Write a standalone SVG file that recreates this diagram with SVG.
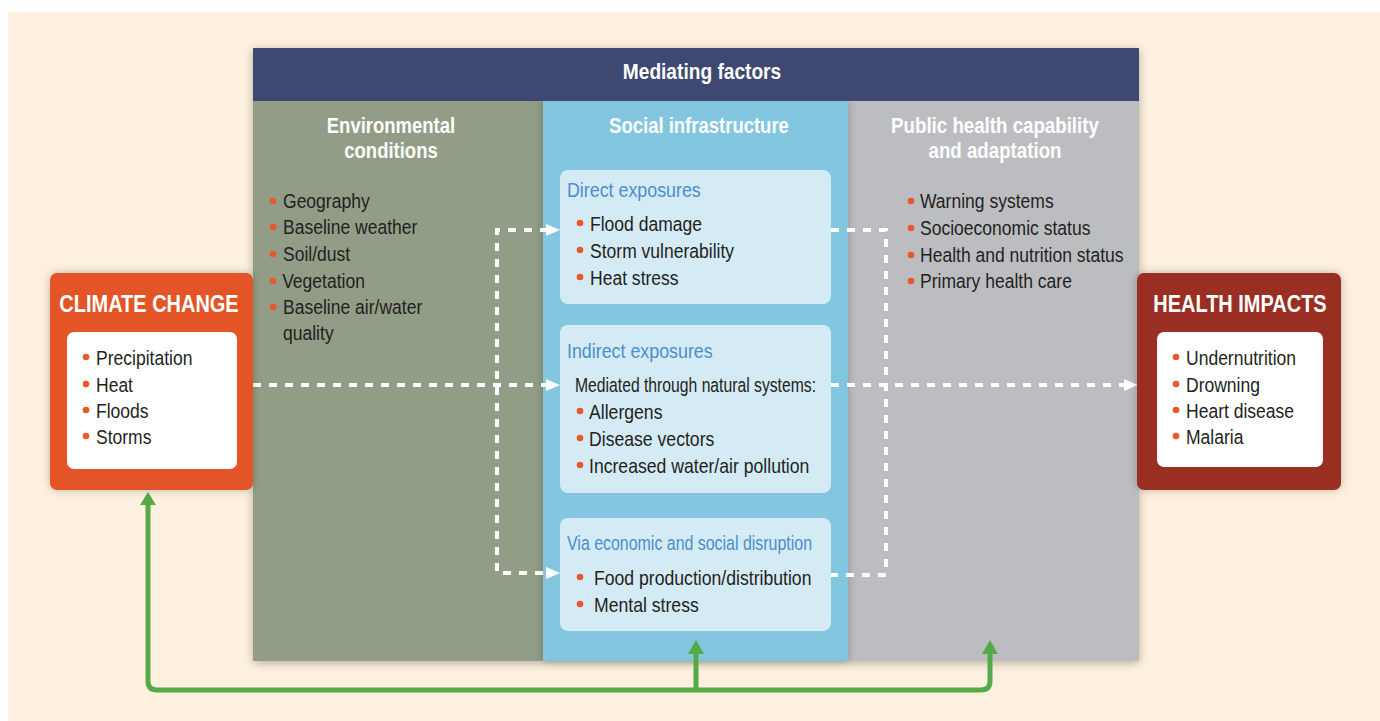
<svg xmlns="http://www.w3.org/2000/svg" width="1380" height="721" viewBox="0 0 1380 721">
<defs>
<style>
.t{font-family:"Liberation Sans",Arial,sans-serif;}
.body{font-size:20.5px;fill:#231f20;}
.hd{font-size:21.5px;font-weight:bold;fill:#ffffff;text-anchor:middle;}
.big{font-size:23.5px;font-weight:bold;fill:#ffffff;text-anchor:middle;}
.sub{font-size:20.5px;fill:#4a8fcc;}
.dot{fill:#e8582a;}
.dash{fill:none;stroke:#ffffff;stroke-width:4;stroke-dasharray:8 8;}
.green{fill:none;stroke:#55a947;stroke-width:5;}
.ibox{fill:#d4eaf5;}
</style>
<filter id="sh" x="-10%" y="-10%" width="120%" height="120%">
<feDropShadow dx="0" dy="2" stdDeviation="5" flood-color="#000" flood-opacity="0.28"/>
</filter>
<filter id="sh2" x="-10%" y="-10%" width="120%" height="120%">
<feDropShadow dx="0" dy="0" stdDeviation="4" flood-color="#000" flood-opacity="0.25"/>
</filter>
</defs>
<rect x="0" y="0" width="1380" height="721" fill="#ffffff"/>
<rect x="8" y="12" width="1372" height="709" fill="#fdf0de"/>

<g id="mediating-factors">
<rect x="253" y="48" width="886" height="613" fill="#bcbdc1" filter="url(#sh)"/>
<rect x="253" y="101" width="290" height="560" fill="#919d86"/>
<rect x="848" y="101" width="291" height="560" fill="#bcbdc1"/>
<rect x="543" y="101" width="305" height="560" fill="#82c6e0" filter="url(#sh2)"/>
<rect x="253" y="48" width="886" height="53" fill="#3e4870"/>
<g transform="translate(702,0) scale(0.89,1) translate(-702,0)">
<text class="t hd" x="702" y="79">Mediating factors</text>
</g>
</g>

<g id="environmental-conditions">
<g transform="translate(391,0) scale(0.86,1) translate(-391,0)">
<text class="t hd" x="391" y="133">Environmental</text>
<text class="t hd" x="391" y="158">conditions</text>
</g>
<circle class="dot" cx="273" cy="201" r="3.3"/>
<circle class="dot" cx="273" cy="227" r="3.3"/>
<circle class="dot" cx="273" cy="254" r="3.3"/>
<circle class="dot" cx="273" cy="281" r="3.3"/>
<circle class="dot" cx="273" cy="307" r="3.3"/>
<g transform="translate(283,0) scale(0.855,1) translate(-283,0)">
<text class="t body" x="283" y="208">Geography</text>
<text class="t body" x="283" y="234">Baseline weather</text>
<text class="t body" x="283" y="261">Soil/dust</text>
<text class="t body" x="282" y="288">Vegetation</text>
<text class="t body" x="283" y="314">Baseline air/water</text>
<text class="t body" x="283" y="340">quality</text>
</g>
</g>

<g id="social-infrastructure">
<g transform="translate(699,0) scale(0.86,1) translate(-699,0)">
<text class="t hd" x="699" y="133">Social infrastructure</text>
</g>
</g>

<g id="public-health-capability">
<g transform="translate(995,0) scale(0.87,1) translate(-995,0)">
<text class="t hd" x="995" y="133">Public health capability</text>
<text class="t hd" x="995" y="158">and adaptation</text>
</g>
<circle class="dot" cx="911" cy="201" r="3.3"/>
<circle class="dot" cx="911" cy="228" r="3.3"/>
<circle class="dot" cx="911" cy="255" r="3.3"/>
<circle class="dot" cx="911" cy="281" r="3.3"/>
<g transform="translate(920,0) scale(0.855,1) translate(-920,0)">
<text class="t body" x="920" y="208">Warning systems</text>
<text class="t body" x="920" y="235">Socioeconomic status</text>
<text class="t body" x="920" y="262">Health and nutrition status</text>
<text class="t body" x="920" y="288">Primary health care</text>
</g>
</g>

<g id="connectors">
<path class="dash" d="M253,385 H546"/>
<path class="dash" d="M548,230 H497 V573 H548"/>
<path class="dash" d="M831,385 H1126"/>
<path class="dash" d="M831,230 H886 V575 H831"/>
<polygon points="546,224 560,230 546,236" fill="#ffffff"/>
<polygon points="546,379 560,385 546,391" fill="#ffffff"/>
<polygon points="546,567 560,573 546,579" fill="#ffffff"/>
<polygon points="1124,379 1138,385 1124,391" fill="#ffffff"/>
<path class="green" d="M148,504 V681 Q148,690 157,690 H981 Q990,690 990,681 V653"/>
<path class="green" d="M696,690 V653"/>
<polygon points="140,505 148,492 156,505" fill="#55a947"/>
<polygon points="688,654 696,640 704,654" fill="#55a947"/>
<polygon points="982,654 990,640 998,654" fill="#55a947"/>
</g>

<g id="direct-exposures">
<rect class="ibox" x="560" y="170" width="271" height="134" rx="8"/>
<g transform="translate(567,0) scale(0.87,1) translate(-567,0)">
<text class="t sub" x="567" y="197">Direct exposures</text>
</g>
<circle class="dot" cx="580" cy="223" r="3.3"/>
<circle class="dot" cx="580" cy="250" r="3.3"/>
<circle class="dot" cx="580" cy="277" r="3.3"/>
<g transform="translate(590,0) scale(0.855,1) translate(-590,0)">
<text class="t body" x="590" y="231">Flood damage</text>
<text class="t body" x="590" y="258">Storm vulnerability</text>
<text class="t body" x="590" y="285">Heat stress</text>
</g>
</g>

<g id="indirect-exposures">
<rect class="ibox" x="560" y="325" width="271" height="168" rx="8"/>
<g transform="translate(567,0) scale(0.87,1) translate(-567,0)">
<text class="t sub" x="567" y="358">Indirect exposures</text>
</g>
<text class="t body" x="575" y="392" textLength="241" lengthAdjust="spacingAndGlyphs">Mediated through natural systems:</text>
<circle class="dot" cx="580" cy="411" r="3.3"/>
<circle class="dot" cx="580" cy="438" r="3.3"/>
<circle class="dot" cx="580" cy="465" r="3.3"/>
<g transform="translate(589,0) scale(0.86,1) translate(-589,0)">
<text class="t body" x="589" y="419">Allergens</text>
<text class="t body" x="589" y="446">Disease vectors</text>
<text class="t body" x="589" y="473">Increased water/air pollution</text>
</g>
</g>

<g id="economic-social-disruption">
<rect class="ibox" x="560" y="518" width="271" height="113" rx="8"/>
<text class="t sub" x="567" y="550" textLength="245" lengthAdjust="spacingAndGlyphs">Via economic and social disruption</text>
<circle class="dot" cx="580" cy="577" r="3.3"/>
<circle class="dot" cx="580" cy="604" r="3.3"/>
<g transform="translate(594,0) scale(0.86,1) translate(-594,0)">
<text class="t body" x="594" y="585">Food production/distribution</text>
<text class="t body" x="594" y="612">Mental stress</text>
</g>
</g>

<g id="climate-change">
<rect x="50" y="273" width="203" height="217" rx="7" fill="#e35425" filter="url(#sh2)"/>
<g transform="translate(149,0) scale(0.85,1) translate(-149,0)">
<text class="t big" x="149" y="312">CLIMATE CHANGE</text>
</g>
<rect x="67" y="332" width="170" height="137" rx="7" fill="#ffffff"/>
<circle class="dot" cx="86" cy="357" r="3.3"/>
<circle class="dot" cx="86" cy="384" r="3.3"/>
<circle class="dot" cx="86" cy="410" r="3.3"/>
<circle class="dot" cx="86" cy="436" r="3.3"/>
<g transform="translate(96,0) scale(0.855,1) translate(-96,0)">
<text class="t body" x="96" y="365">Precipitation</text>
<text class="t body" x="96" y="392">Heat</text>
<text class="t body" x="96" y="418">Floods</text>
<text class="t body" x="96" y="444">Storms</text>
</g>
</g>

<g id="health-impacts">
<rect x="1137" y="273" width="204" height="217" rx="7" fill="#9b2e22" filter="url(#sh2)"/>
<g transform="translate(1240,0) scale(0.85,1) translate(-1240,0)">
<text class="t big" x="1240" y="312">HEALTH IMPACTS</text>
</g>
<rect x="1157" y="332" width="166" height="135" rx="7" fill="#ffffff"/>
<circle class="dot" cx="1176" cy="357" r="3.3"/>
<circle class="dot" cx="1176" cy="384" r="3.3"/>
<circle class="dot" cx="1176" cy="410" r="3.3"/>
<circle class="dot" cx="1176" cy="436" r="3.3"/>
<g transform="translate(1186,0) scale(0.855,1) translate(-1186,0)">
<text class="t body" x="1186" y="365">Undernutrition</text>
<text class="t body" x="1186" y="392">Drowning</text>
<text class="t body" x="1186" y="418">Heart disease</text>
<text class="t body" x="1186" y="444">Malaria</text>
</g>
</g>
</svg>
